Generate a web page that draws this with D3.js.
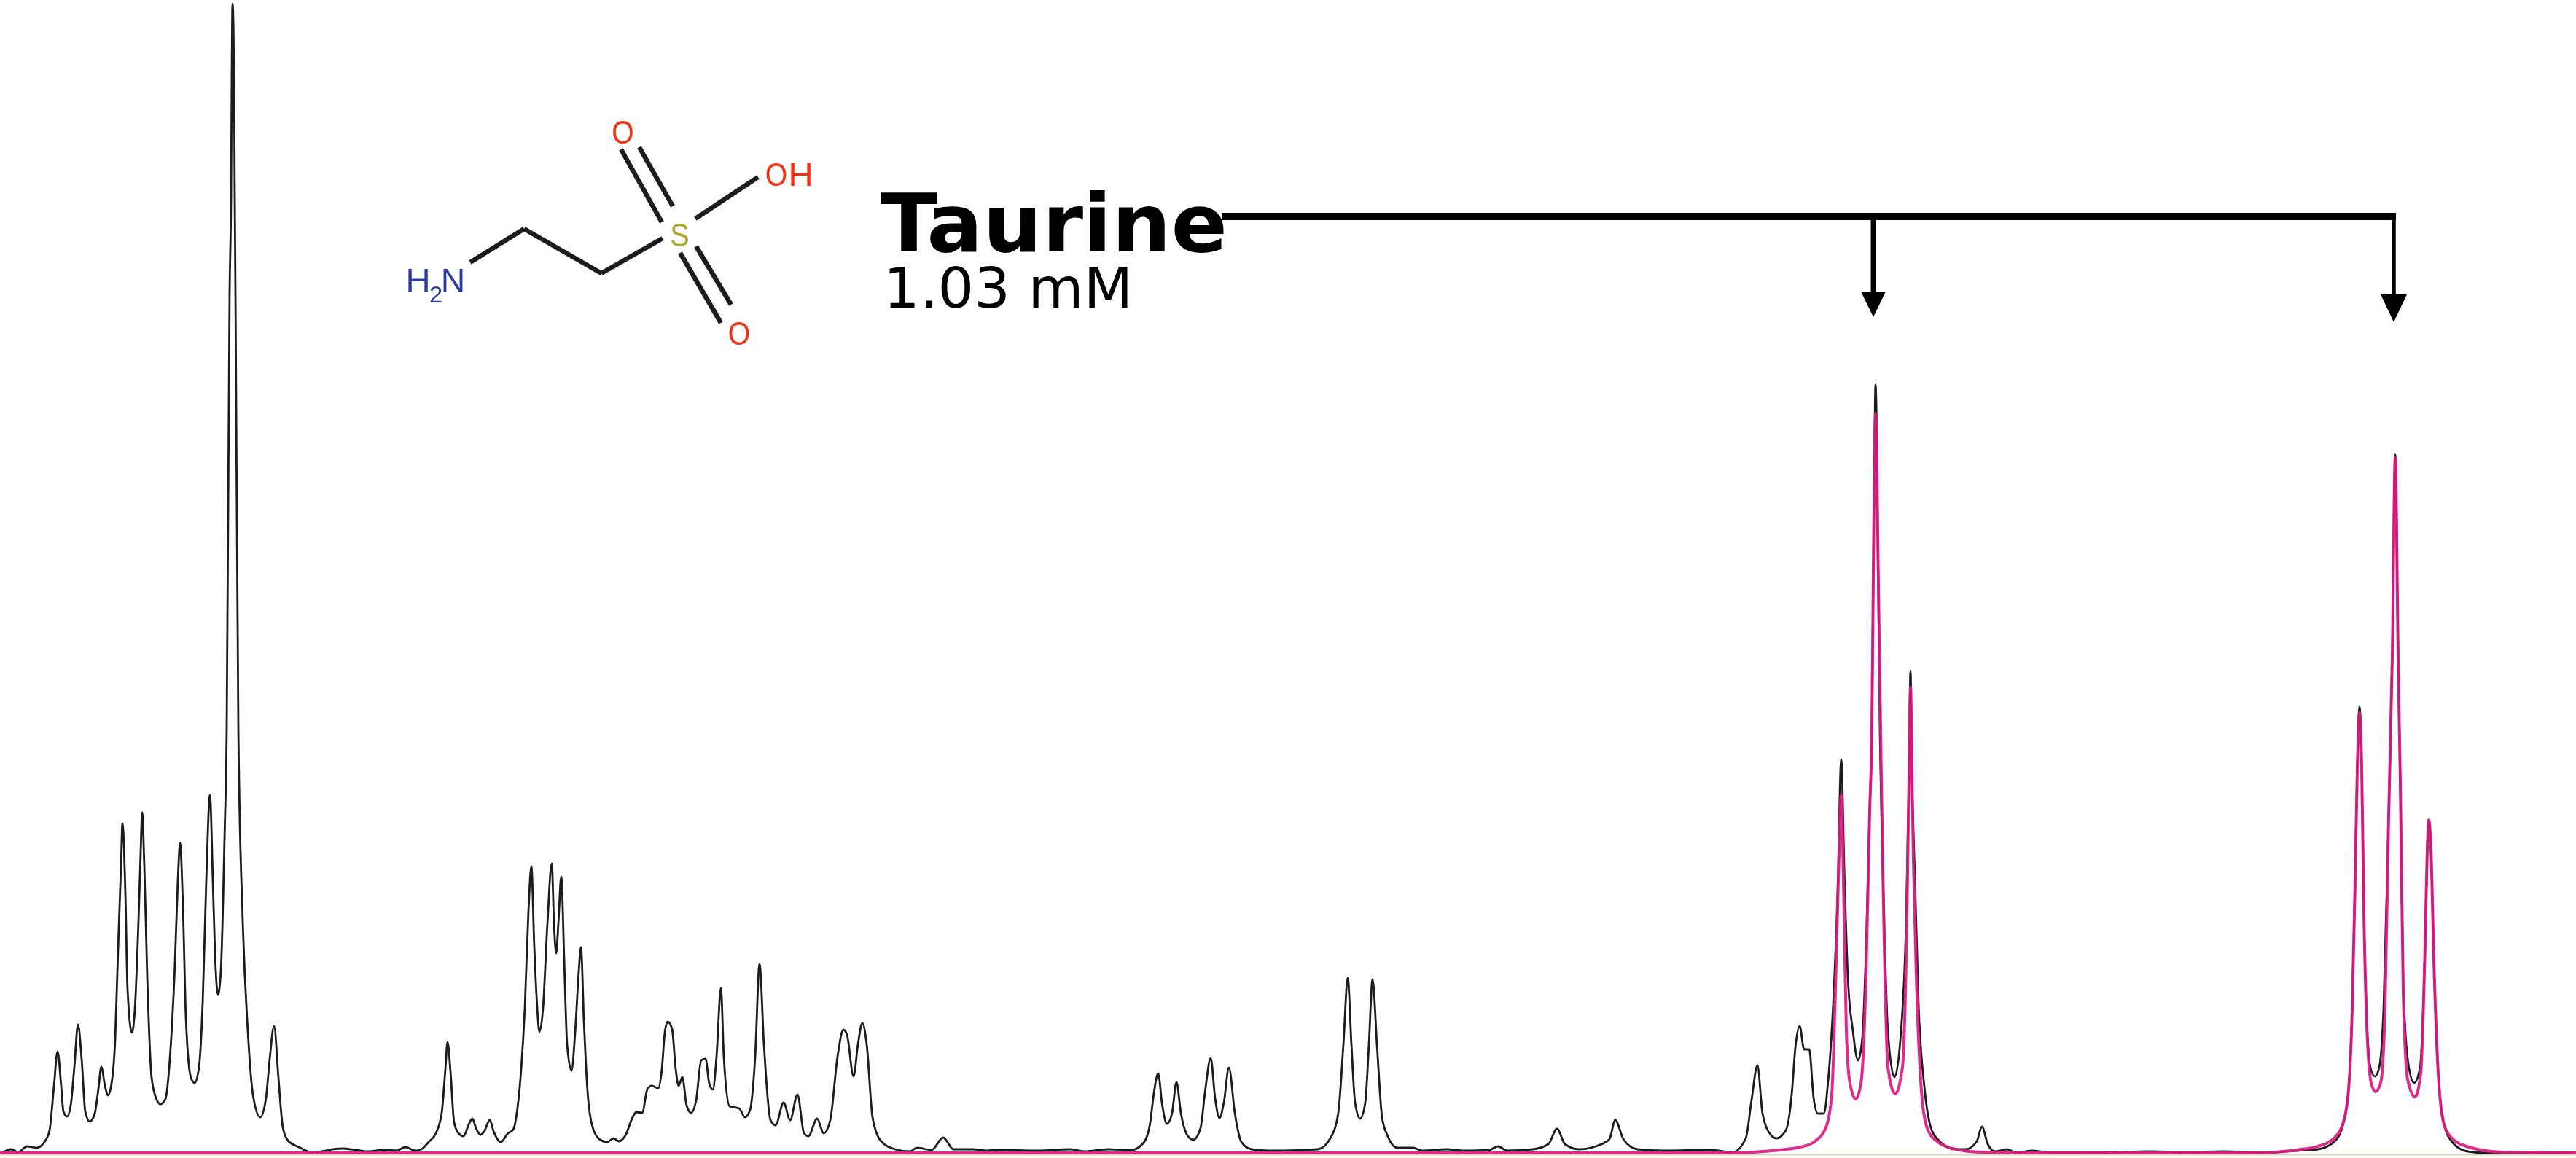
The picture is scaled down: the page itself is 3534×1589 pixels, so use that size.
<!DOCTYPE html>
<html>
<head>
<meta charset="utf-8">
<title>Taurine</title>
<script src="https://cdn.jsdelivr.net/npm/d3@7"></script>
<style>
html,body{margin:0;padding:0;background:#fff;overflow:hidden}
svg{display:block}
</style>
</head>
<body>
<script>
const measuredA = [[3,0],[15,5],[25,1],[37,9],[50,7],[63,18],[68,31],[74,91],[79,139],[84,91],[87,57],[92,50],[97,65],[102,118],[107,176],[112,129],[117,57],[123,43],[130,54],[135,88],[139,118],[144,92],[148,79],[153,95],[158,156],[162,280],[166,393],[168,452],[172,356],[175,224],[181,165],[185,197],[190,318],[193,412],[195,467],[198,393],[202,242],[208,103],[215,73],[220,67],[227,74],[233,129],[240,261],[244,374],[247,425],[251,337],[255,186],[262,103],[267,96],[273,118],[278,205],[283,374],[288,491],[292,374],[295,273],[299,217],[303,250],[308,431],[311,582],[315,1182],[317,1315],[318,1482],[319,1577],[321,1482],[322,1315],[323,1182],[327,582],[333,318],[340,167],[347,80],[357,49],[365,76],[370,129],[376,174],[382,103],[388,35],[395,17],[410,8],[427,1],[448,3]];
const measuredB = [[450,4],[470,6],[488,4],[506,2],[527,4],[544,3],[556,8],[570,3],[578,5],[588,15],[598,27],[606,55],[611,115],[614,152],[618,112],[623,42],[629,27],[636,23],[643,39],[648,47],[653,34],[659,25],[664,29],[672,45],[677,30],[687,15],[697,27],[704,32],[710,62],[715,115],[720,199],[725,332],[729,393],[733,282],[737,199],[740,166],[745,199],[751,315],[757,397],[760,315],[763,274],[766,315],[770,379],[774,265],[778,149],[784,113],[789,165],[794,249],[797,282],[801,182],[806,85],[812,39],[822,19],[833,15],[842,20],[849,16],[858,24],[868,49],[873,56],[881,55],[888,87],[894,92],[903,89],[908,115],[912,165],[916,180],[922,170],[927,115],[931,92],[936,104],[942,65],[948,55],[955,72],[962,127],[968,129],[973,95],[978,87],[983,132],[989,226],[993,132],[1001,64],[1014,61],[1022,49],[1029,59],[1036,132],[1042,259],[1048,149],[1057,45],[1064,38],[1075,69],[1084,45],[1094,80],[1103,27],[1109,23],[1121,47],[1130,27],[1139,45],[1149,132],[1157,169],[1162,162],[1171,105],[1177,149],[1183,178],[1189,149],[1197,49],[1208,17],[1228,5],[1248,2]];
const measuredC = [[1258,7],[1278,4],[1294,21],[1308,5],[1334,5],[1355,3],[1366,4],[1425,3],[1468,5],[1489,2],[1520,5],[1552,4],[1569,14],[1578,42],[1583,82],[1589,109],[1594,69],[1601,40],[1608,55],[1614,97],[1620,55],[1629,24],[1637,18],[1647,34],[1653,82],[1661,130],[1667,75],[1673,48],[1679,69],[1686,117],[1694,55],[1703,15],[1717,5],[1741,3],[1808,5],[1825,20],[1836,55],[1843,149],[1849,240],[1854,149],[1859,69],[1866,47],[1873,69],[1878,149],[1883,238],[1889,149],[1896,49],[1903,25],[1917,7],[1938,7],[1952,3],[1985,5],[2008,3],[2043,4],[2055,9],[2068,3],[2103,5],[2124,12],[2136,33],[2147,12],[2166,5],[2197,12],[2208,19],[2216,45],[2227,19],[2246,5],[2282,3],[2345,4]];
const measuredD = [[2377,1],[2395,20],[2403,73],[2411,120],[2418,54],[2430,24],[2437,20],[2450,31],[2458,80],[2463,144],[2469,174],[2475,142],[2482,142],[2488,76],[2494,54],[2502,54],[2508,99],[2515,205],[2521,356],[2526,540],[2530,393],[2535,242],[2542,167],[2549,127],[2555,159],[2560,280],[2565,469],[2568,582],[2570.5,849],[2572,1000],[2573,1054],[2574.5,1000],[2576,849],[2579,582],[2583,393],[2590,167],[2599,104],[2608,167],[2615,318],[2619,520],[2621,661],[2623,520],[2627,380],[2632,205],[2640,91],[2647,42],[2657,20],[2683,5],[2697,5],[2712,16],[2719,36],[2727,12],[2737,2],[2753,5],[2767,0],[2787,3],[2817,0],[2850,0]];
const measuredE = [[2900,1],[2950,2],[3000,1],[3050,2],[3100,1],[3150,3],[3180,5],[3203,16],[3215,41],[3222,87],[3227,197],[3231,374],[3234,532],[3237,612],[3240,532],[3243,330],[3247,182],[3252,117],[3258,105],[3264,117],[3270,197],[3277,462],[3282,682],[3286,958],[3290,682],[3293,506],[3297,232],[3304,122],[3312,96],[3320,117],[3327,286],[3330,418],[3332,457],[3335,418],[3339,264],[3345,109],[3353,39],[3365,14],[3385,2],[3410,0],[3530,0]];

// Fitted taurine signal.
const fitFirstTriplet = [[0,0],[2383,0],[2430,3],[2470,8],[2490,16],[2505,35],[2513,80],[2518,224],[2522,374],[2526,491],[2529,374],[2533,167],[2538,95],[2546,74],[2553,95],[2560,242],[2565,469],[2568,582],[2570.5,849],[2572,980],[2573,1014],[2574.5,980],[2576,849],[2580,582],[2583,393],[2590,118],[2600,81],[2610,118],[2616,318],[2619,520],[2621,639],[2623,520],[2625,400],[2629,242],[2637,73],[2645,31],[2660,14],[2683,5],[2717,1],[2783,0]];
const fitSecondTriplet = [[3100,0],[3150,4],[3180,9],[3203,21],[3215,43],[3222,87],[3227,197],[3231,374],[3234,528],[3237,604],[3240,528],[3243,330],[3247,175],[3253,96],[3259,84],[3266,96],[3272,197],[3277,462],[3282,682],[3286,954],[3290,682],[3293,506],[3297,219],[3303,101],[3313,77],[3321,109],[3327,286],[3330,418],[3332,457],[3335,418],[3339,264],[3345,109],[3353,39],[3363,21],[3387,8],[3433,1],[3534,0]];

const measured = [...measuredA, ...measuredB, ...measuredC, ...measuredD, ...measuredE];
const fitted = [...fitFirstTriplet, ...fitSecondTriplet];

// Callout
const compoundName = "Taurine";
const concentration = "1.03 mM";
const calloutTargets = [[2570, 1147, 35, 34, 7], [3284, 1140, 38, 36, 5.5]]; // channel, tip intensity, head length, head width, shaft width
const calloutStart = 1677;
const calloutEnd = 3287;
const calloutLevel = 1285;

// Structure: drawn in its own small frame
const bonds = [[[645,360],[719,314]],[[719,314],[825,375]],[[825,375],[909,327]],
  [[908,305],[852,205]],[[923,283],[877,202]],[[954,300],[1040,243]],
  [[933,347],[989,443]],[[955,338],[1003,418]]];
const atomLabels = [
  {t:"H",x:573.5,y:400,c:"#2c3d9f",s:45,k:1.05},{t:"2",x:598,y:415,c:"#2c3d9f",s:31,k:1.05},{t:"N",x:621.5,y:400,c:"#2c3d9f",s:45,k:1.03},
  {t:"S",x:932.5,y:337.5,c:"#a9a92e",s:45,k:0.88},{t:"O",x:854.5,y:196.5,c:"#ee3216",s:45,k:0.87},
  {t:"O",x:1065,y:254.5,c:"#ee3216",s:45,k:0.87},{t:"H",x:1098.5,y:254.5,c:"#ee3216",s:45,k:1.05},{t:"O",x:1014,y:472.5,c:"#ee3216",s:45,k:0.87}
];

const W = 3534, H = 1589;
const x = d3.scaleLinear().domain([0, 3534]).range([0, W]);
const y = d3.scaleLinear().domain([0, 1577]).range([1582, 5]);
const line = d3.line().x(d => x(d[0])).y(d => y(d[1])).curve(d3.curveMonotoneX);

const svg = d3.select("body").append("svg").attr("width", W).attr("height", H).attr("viewBox", `0 0 ${W} ${H}`);
svg.append("rect").attr("width", W).attr("height", H).attr("fill", "#fff");
svg.append("defs").append("filter").attr("id", "soft")
  .append("feGaussianBlur").attr("stdDeviation", 0.7);

const axis = svg.append("g").attr("transform", `translate(0,${y(0) + 2})`)
  .call(d3.axisBottom(x).tickValues([]).tickSizeOuter(0));
axis.select("path").attr("stroke", "#d8d8bc").attr("stroke-width", 2);

svg.append("path").datum(measured).attr("d", line).attr("fill", "none")
  .attr("stroke", "#1c1c1c").attr("stroke-width", 2.8).attr("stroke-linejoin", "round");
svg.append("path").datum(fitted).attr("d", line).attr("fill", "none")
  .attr("stroke", "#dc1a80").attr("stroke-opacity", 0.92).attr("stroke-width", 4).attr("stroke-linejoin", "round");

// structure
const mol = svg.append("g").attr("filter", "url(#soft)");
mol.selectAll("line").data(bonds).join("line")
  .attr("x1", d => d[0][0]).attr("y1", d => d[0][1])
  .attr("x2", d => d[1][0]).attr("y2", d => d[1][1])
  .attr("stroke", "#1e1e1e").attr("stroke-width", 6.5);
mol.selectAll("text").data(atomLabels).join("text")
  .attr("transform", d => `translate(${d.x},${d.y}) scale(${d.k},1)`)
  .attr("text-anchor", "middle").attr("fill", d => d.c)
  .attr("font-size", d => d.s).attr("font-family", "Liberation Sans, Arial, sans-serif").text(d => d.t);

// labels
svg.append("text").attr("x", 1208).attr("y", 345).attr("font-family", "DejaVu Sans, Verdana, sans-serif")
  .attr("font-weight", "bold").attr("font-size", 110).attr("fill", "#000")
  .attr("textLength", 476).attr("lengthAdjust", "spacingAndGlyphs").text(compoundName);
svg.append("text").attr("x", 1212).attr("y", 422).attr("font-family", "DejaVu Sans, Verdana, sans-serif")
  .attr("font-size", 76).attr("fill", "#000")
  .attr("textLength", 342).attr("lengthAdjust", "spacingAndGlyphs").text(concentration);

// callout bracket and arrows
svg.append("line").attr("x1", x(calloutStart)).attr("x2", x(calloutEnd))
  .attr("y1", y(calloutLevel)).attr("y2", y(calloutLevel))
  .attr("stroke", "#000").attr("stroke-width", 10);
const arrows = svg.selectAll("g.arrow").data(calloutTargets).join("g").attr("class", "arrow");
arrows.append("line").attr("x1", d => x(d[0])).attr("x2", d => x(d[0]))
  .attr("y1", y(calloutLevel)).attr("y2", d => y(d[1]) - d[2] + 2)
  .attr("stroke", "#000").attr("stroke-width", d => d[4]);
arrows.append("path").attr("fill", "#000")
  .attr("d", d => `M${x(d[0]) - d[3] / 2},${y(d[1]) - d[2]}L${x(d[0]) + d[3] / 2},${y(d[1]) - d[2]}L${x(d[0])},${y(d[1])}Z`);
</script>
</body>
</html>
